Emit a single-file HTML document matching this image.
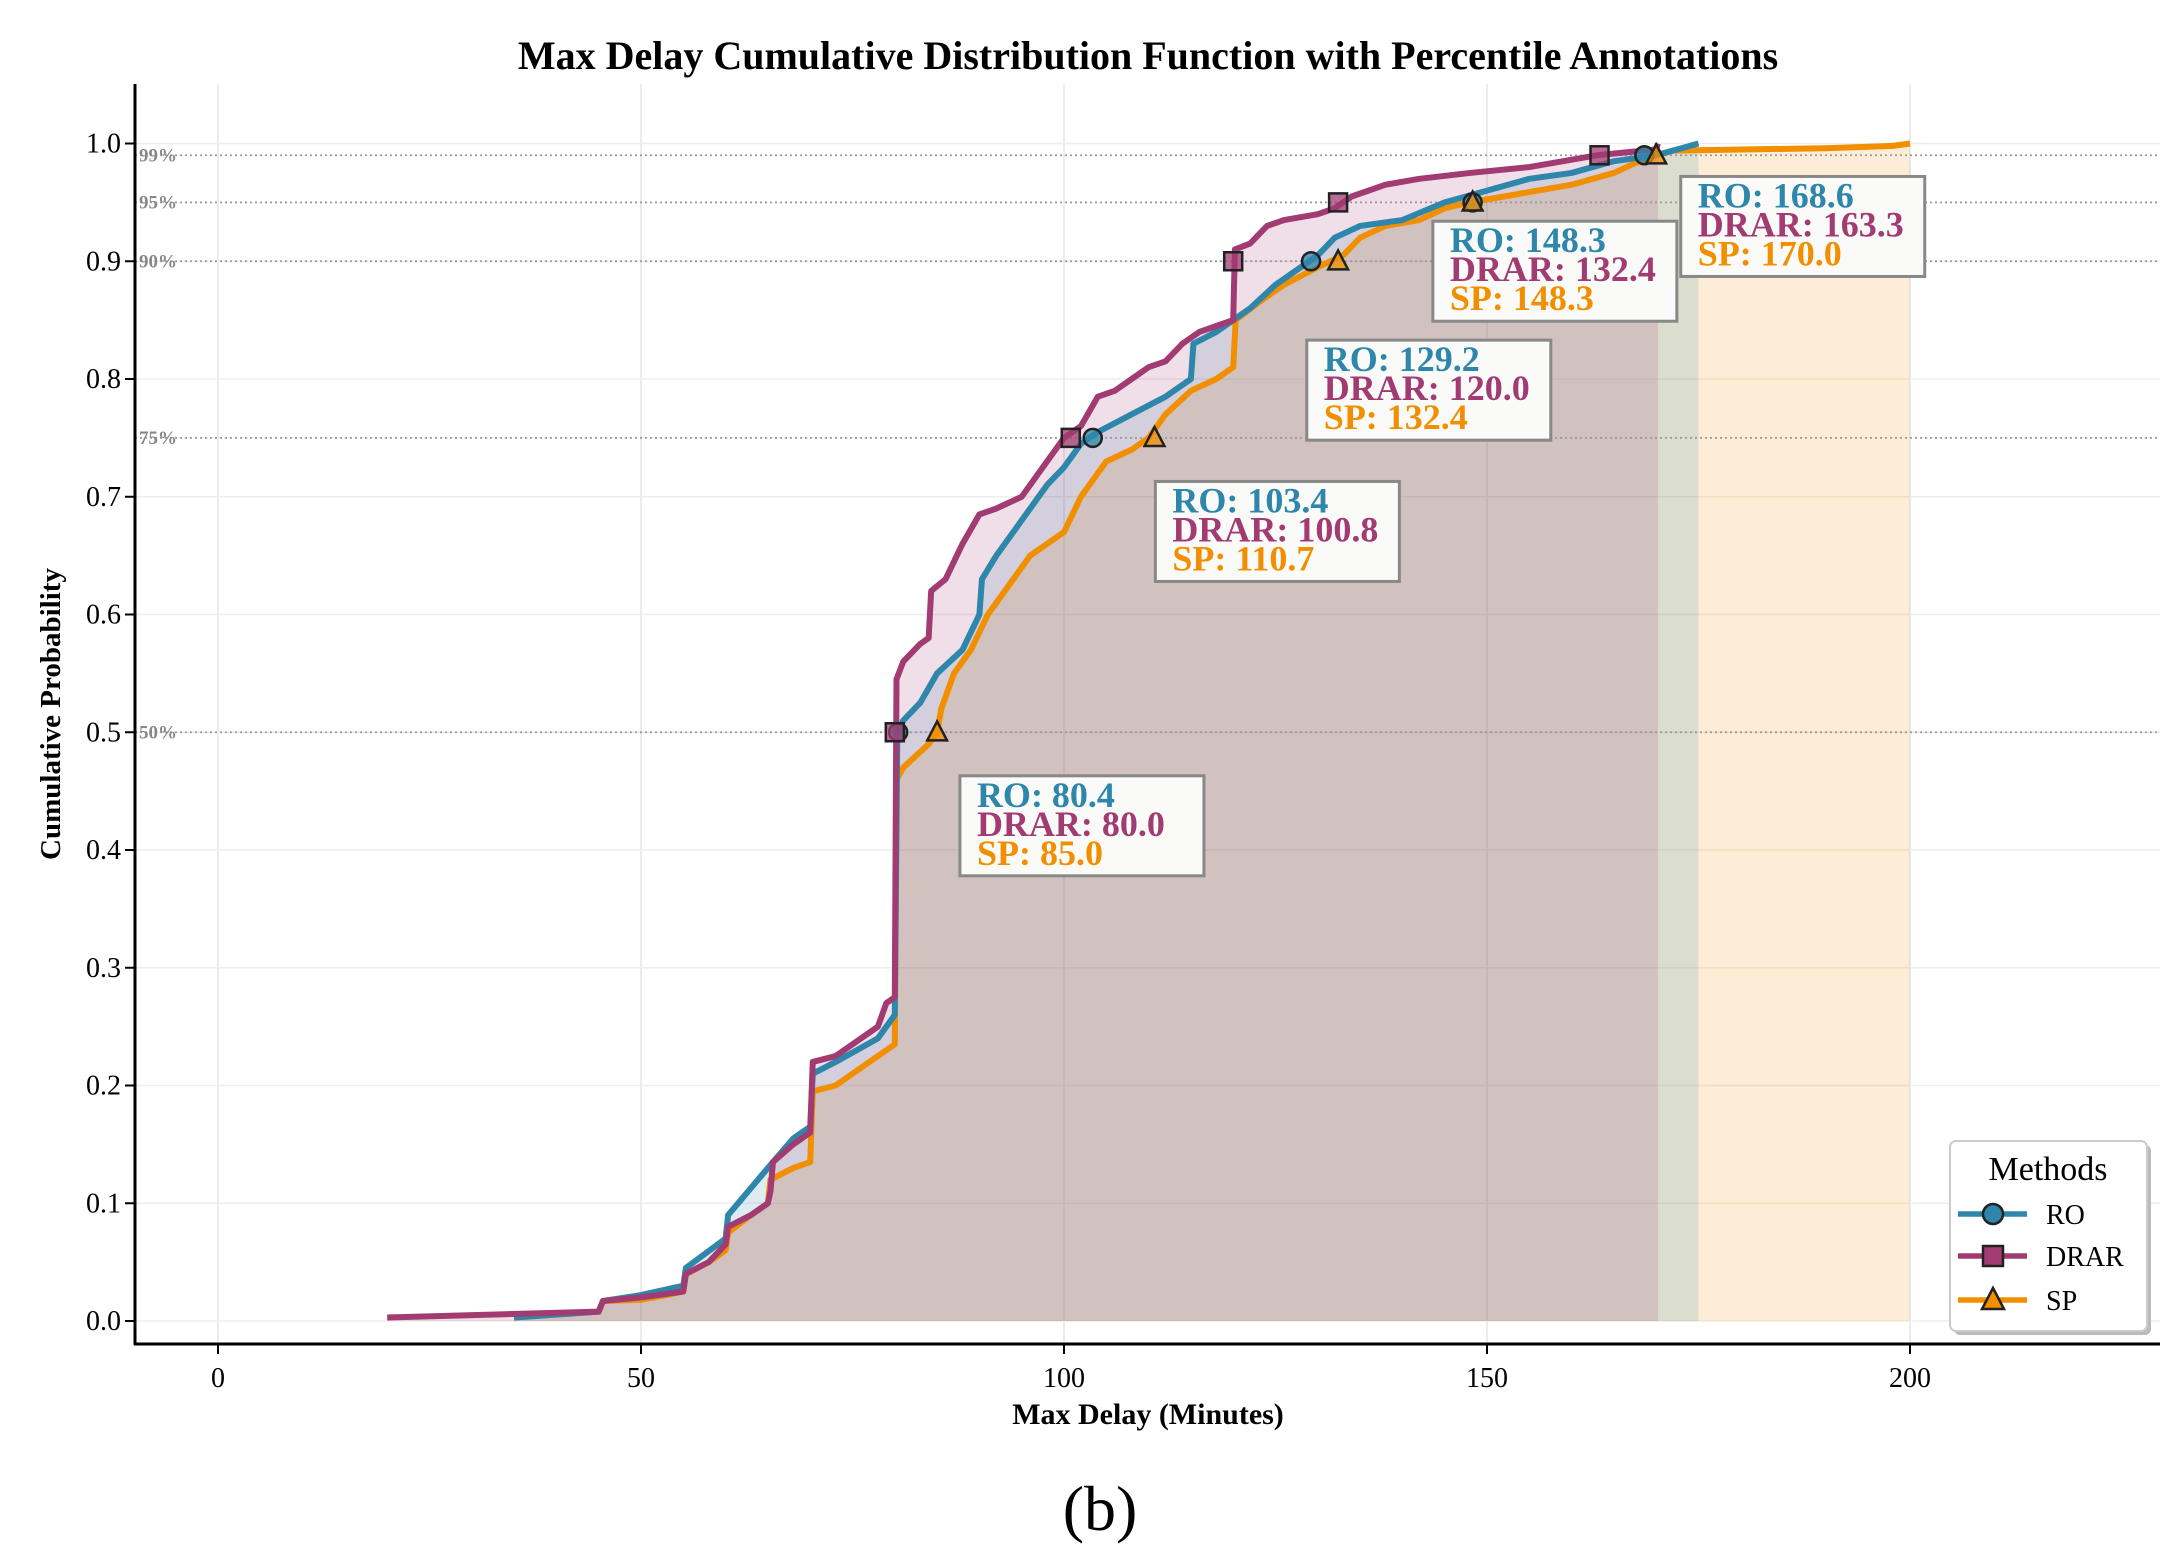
<!DOCTYPE html>
<html><head><meta charset="utf-8"><style>
html,body{margin:0;padding:0;background:#fff;}
svg{display:block;font-family:"Liberation Serif",serif;}
</style></head><body>
<svg id="chart" width="2184" height="1565" viewBox="0 0 2184 1565">
<rect width="2184" height="1565" fill="#fff"/>
<g id="grid"></g><g id="fills"></g><g id="pct"></g><g id="lines"></g><g id="marks"></g><g id="axes"></g><g id="annots"></g><g id="legend"></g>
<text x="1148" y="69" text-anchor="middle" font-size="40" font-weight="bold">Max Delay Cumulative Distribution Function with Percentile Annotations</text>
<text x="1148" y="1424" text-anchor="middle" font-size="30" font-weight="bold">Max Delay (Minutes)</text>
<text transform="translate(60,714) rotate(-90)" text-anchor="middle" font-size="29" font-weight="bold">Cumulative Probability</text>
<text x="1100" y="1530" text-anchor="middle" font-size="64">(b)</text>
</svg>
<script>
const xTicks=[0,50,100,150,200];
const yTicks=[0,0.1,0.2,0.3,0.4,0.5,0.6,0.7,0.8,0.9,1.0];
const yTickLabels=["0.0","0.1","0.2","0.3","0.4","0.5","0.6","0.7","0.8","0.9","1.0"];
const pctLevels=[0.5,0.75,0.9,0.95,0.99];
const pctLabels=["50%","75%","90%","95%","99%"];
const roX=[35,45,45.5,50,55,55.3,60,60.3,65,68,70,70.3,73,78,80,80.3,81,83,85,88,90,90.3,92,95,98,100,102,104,108,112,115,115.3,118,120,122,125,128,130,132,135,140,145,150,155,160,165,170,175];
const roY=[0.003,0.008,0.017,0.022,0.03,0.045,0.07,0.09,0.13,0.155,0.165,0.21,0.22,0.24,0.26,0.5,0.51,0.525,0.55,0.57,0.6,0.63,0.65,0.68,0.71,0.725,0.745,0.755,0.77,0.785,0.8,0.83,0.84,0.85,0.86,0.88,0.895,0.905,0.92,0.93,0.935,0.95,0.96,0.97,0.975,0.985,0.99,1.0];
const drX=[20,45,45.5,50,55,55.3,58,60,60.3,63,65,65.3,65.6,68,70,70.3,73,75,78,79,80,80.2,81,83,84,84.3,86,88,90,92,95,98,100,102,104,106,108,110,112,114,116,118,120,120.2,122,124,126,130,132,134,138,142,148,155,163,170,170.2];
const drY=[0.003,0.008,0.017,0.02,0.025,0.04,0.05,0.065,0.08,0.09,0.1,0.11,0.135,0.15,0.16,0.22,0.225,0.235,0.25,0.27,0.275,0.545,0.56,0.575,0.58,0.62,0.63,0.66,0.685,0.69,0.7,0.73,0.75,0.76,0.785,0.79,0.8,0.81,0.815,0.83,0.84,0.845,0.85,0.91,0.915,0.93,0.935,0.94,0.945,0.955,0.965,0.97,0.975,0.98,0.99,0.995,1.0];
const spX=[35,45,45.5,50,53,55,55.3,58,60,60.3,63,65,65.3,68,70,70.3,73,75,78,80,80.2,81,84,85,85.5,87,89,91,93,96,100,102,105,108,110,112,115,118,120,120.3,123,126,130,133,135,138,142,145,148,152,156,160,165,168,170,172,190,198,200];
const spY=[0.003,0.008,0.017,0.018,0.022,0.025,0.04,0.05,0.06,0.075,0.09,0.1,0.12,0.13,0.135,0.195,0.2,0.21,0.225,0.235,0.46,0.47,0.49,0.5,0.52,0.55,0.57,0.6,0.62,0.65,0.67,0.7,0.73,0.74,0.75,0.77,0.79,0.8,0.81,0.85,0.865,0.88,0.895,0.905,0.92,0.93,0.935,0.945,0.95,0.955,0.96,0.965,0.975,0.985,0.99,0.994,0.996,0.998,1.0];
const roMarkX=[80.4,103.4,129.2,148.3,168.6];
const drMarkX=[80.0,100.8,120.0,132.4,163.3];
const spMarkX=[85.0,110.7,132.4,148.3,170.0];
const annotRO=["80.4","103.4","129.2","148.3","168.6"];
const annotDR=["80.0","100.8","120.0","132.4","163.3"];
const annotSP=["85.0","110.7","132.4","148.3","170.0"];
const annotBoxX=[87.7,110.8,128.7,143.6,172.9];
const annotBoxY=[0.463,0.713,0.833,0.934,0.972];

const X=v=>218+(v/50)*423;
const Y=v=>1321-v*(1321-143.5);
const NS="http://www.w3.org/2000/svg";
function mk(tag,attrs,parent){const e=document.createElementNS(NS,tag);for(const k in attrs)e.setAttribute(k,attrs[k]);document.getElementById(parent).appendChild(e);return e;}
const C={ro:"#2e86ab",dr:"#a23b72",sp:"#f18f01"};
const L=135,R=2160,T=84,B=1344;

xTicks.forEach((t,i)=>{
 let g=mk('line',{x1:X(t),x2:X(t),y1:T,y2:B,stroke:'#e6e6e6','stroke-width':1.5},'grid');
 
 let tk=mk('line',{x1:X(t),x2:X(t),y1:B,y2:B+10,stroke:'#000','stroke-width':2},'axes');
 
 let tx=mk('text',{x:X(t),y:B+43,'text-anchor':'middle','font-size':28},'axes');tx.textContent=t;
 
});
yTicks.forEach((t,i)=>{
 let g=mk('line',{x1:L,x2:R,y1:Y(t),y2:Y(t),stroke:'#eeeeee','stroke-width':1.5},'grid');
 
 let tk=mk('line',{x1:L-10,x2:L,y1:Y(t),y2:Y(t),stroke:'#000','stroke-width':2},'axes');
 
 let tx=mk('text',{x:L-14,y:Y(t)+9,'text-anchor':'end','font-size':28},'axes');tx.textContent=yTickLabels[i];
 
});
let sp1=mk('line',{x1:L,x2:L,y1:T,y2:B+1,stroke:'#000','stroke-width':3},'axes');

let sp2=mk('line',{x1:L-1,x2:R,y1:B,y2:B,stroke:'#000','stroke-width':3},'axes');


function stepPath(xs,ys){let d=`M${X(xs[0])},${Y(ys[0])}`;for(let i=1;i<xs.length;i++){d+=`L${X(xs[i])},${Y(ys[i])}`;}return d;}
[[spX,spY,C.sp,'sp'],[roX,roY,C.ro,'ro'],[drX,drY,C.dr,'drar']].forEach(([xs,ys,c,n])=>{
 const d=stepPath(xs,ys)+`L${X(xs[xs.length-1])},${Y(0)}L${X(xs[0])},${Y(0)}Z`;
 let f=mk('path',{d:d,fill:c,'fill-opacity':0.16},'fills');
 
});
pctLevels.forEach((p,i)=>{
 let l=mk('line',{x1:L,x2:R,y1:Y(p),y2:Y(p),stroke:'#999','stroke-width':1.8,'stroke-dasharray':'2,3'},'pct');
 
 let t=mk('text',{x:L+4,y:Y(p)+6,'font-size':19,fill:'#888','font-weight':'bold'},'pct');t.textContent=pctLabels[i];
 
});
[[spX,spY,C.sp,'sp'],[roX,roY,C.ro,'ro'],[drX,drY,C.dr,'drar']].forEach(([xs,ys,c,n])=>{
 let p=mk('path',{d:stepPath(xs,ys),fill:'none',stroke:c,'stroke-width':6,'stroke-linejoin':'round'},'lines');
 
});
function marker(type,cx,cy,c,parent,s){
 let e;
 if(type==='o')e=mk('circle',{cx:cx,cy:cy,r:s,fill:c,stroke:'#222','stroke-width':2.5},parent);
 else if(type==='s')e=mk('rect',{x:cx-s,y:cy-s,width:2*s,height:2*s,fill:c,stroke:'#222','stroke-width':2.5},parent);
 else e=mk('polygon',{points:`${cx},${cy-s*1.2} ${cx-s*1.1},${cy+s*0.9} ${cx+s*1.1},${cy+s*0.9}`,fill:c,stroke:'#222','stroke-width':2.5},parent);
 return e;
}
roMarkX.forEach((x,i)=>{let m=marker('o',X(x),Y(pctLevels[i]),C.ro,'marks',9);m.setAttribute('fill-opacity','0.75');
 });
drMarkX.forEach((x,i)=>{let m=marker('s',X(x),Y(pctLevels[i]),C.dr,'marks',9);m.setAttribute('fill-opacity','0.75');
 });
spMarkX.forEach((x,i)=>{let m=marker('t',X(x),Y(pctLevels[i]),C.sp,'marks',9);m.setAttribute('fill-opacity','0.75');
 });

annotRO.forEach((v,i)=>{
 const bx=X(annotBoxX[i]),by=Y(annotBoxY[i]);
 let r=mk('rect',{x:bx,y:by,width:244,height:100,fill:'#fafaf8',stroke:'#888','stroke-width':3},'annots');
 
 [["RO: "+v,C.ro],["DRAR: "+annotDR[i],C.dr],["SP: "+annotSP[i],C.sp]].forEach(([s,c],j)=>{
  let t=mk('text',{x:bx+17,y:by+31+j*29,'font-size':36,'font-weight':'bold',fill:c},'annots');t.textContent=s;
  
 });
});

let sh=mk('rect',{x:1954,y:1145,width:197,height:190,rx:6,fill:'#bbb'},'legend');

let lb=mk('rect',{x:1950,y:1141,width:197,height:190,rx:6,fill:'#fff',stroke:'#ccc','stroke-width':2},'legend');

let lt=mk('text',{x:2048,y:1180,'text-anchor':'middle','font-size':34},'legend');lt.textContent='Methods';

[['RO',C.ro,'o',1214],['DRAR',C.dr,'s',1256],['SP',C.sp,'t',1300]].forEach(([n,c,m,y])=>{
 let l=mk('line',{x1:1958,x2:2027,y1:y,y2:y,stroke:c,'stroke-width':5.5},'legend');
 
 let mm=marker(m,1993,y,c,'legend',10);
 
 let t=mk('text',{x:2046,y:y+10,'font-size':28},'legend');t.textContent=n;
 
});
</script>
</body></html>
